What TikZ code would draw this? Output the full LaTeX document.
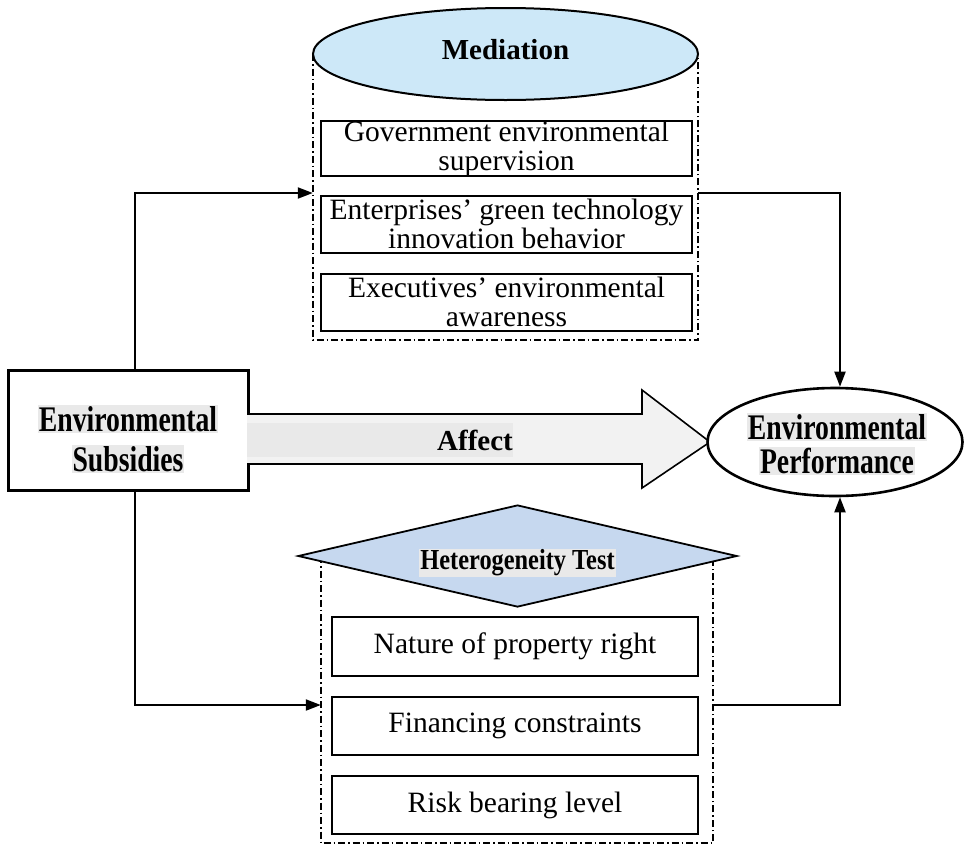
\documentclass[tikz,border=0pt]{standalone}
\usepackage{fontspec}
\setmainfont{Liberation Serif}
\newfontfamily\condA{Liberation Serif}[FakeStretch=0.77]
\newfontfamily\condB{Liberation Serif}[FakeStretch=0.84]
\usetikzlibrary{arrows.meta,shapes.geometric}
\definecolor{hlgray}{HTML}{E9E9E9}
\definecolor{arrgray}{HTML}{F2F2F2}
\definecolor{medblue}{HTML}{CDE8F8}
\definecolor{hetblue}{HTML}{C6D8EF}
\begin{document}
\begin{tikzpicture}[x=1pt,y=-1pt,
  txt/.style={font=\fontsize{29.5}{29}\selectfont},
  mbox/.style={draw,line width=2pt,minimum width=371pt,minimum height=57pt,inner sep=0pt,align=center,txt},
  hbox/.style={draw,line width=2pt,minimum width=366pt,minimum height=58pt,inner sep=0pt,align=center,txt},
  frame/.style={draw=none,minimum width=#1,inner sep=0pt},
  dd/.style={line width=1.6pt,dash pattern=on 7pt off 3pt on 1.5pt off 3pt},
  hl/.style={fill=hlgray,inner sep=1pt},
  bigtxt/.style={hl,font=\fontsize{36}{36}\condA\bfseries},
  arr/.style={line width=2pt,-{Triangle[length=15pt,width=11pt]}}]
\useasboundingbox (0,0) rectangle (965,849);

% frames
\node[frame=385pt,minimum height=286pt] (medfr) at (505.5,197) {};
\node[frame=392pt,minimum height=287pt] (hetfr) at (517,699.5) {};

\node[ellipse,minimum width=385pt,minimum height=92pt,inner sep=0pt] (med) at (505.5,54) {};
\node[diamond,minimum width=439pt,minimum height=102pt,inner sep=0pt] (het) at (517.5,556) {};

\draw[dd] (med.center -| medfr.west) -- (medfr.south west) -- (medfr.south east) -- (medfr.east |- med.center);
\draw[dd] (het.center -| hetfr.west) -- (hetfr.south west) -- (hetfr.south east) -- (hetfr.east |- het.center);

\node[ellipse,draw,line width=2pt,fill=medblue,minimum width=385pt,minimum height=92pt,inner sep=0pt] (med2) at (med.center) {};
\node[font=\fontsize{29}{29}\selectfont\bfseries] (medt) at (505.5,50) {Mediation};

\node[diamond,draw,line width=1.8pt,fill=hetblue,minimum width=439pt,minimum height=102pt,inner sep=0pt] (het2) at (het.center) {};
\node[hl,font=\fontsize{29}{29}\condB\bfseries] (hett) at (517.5,563) {Heterogeneity Test};

% mediation boxes
\node[mbox,minimum height=55pt] (m1) at (506.5,148.5) {Government environmental\\supervision};
\node[mbox] (m2) at (506.5,224) {Enterprises’ green technology\\innovation behavior};
\node[mbox] (m3) at (506.5,302) {Executives’ environmental\\awareness};

% heterogeneity boxes
\node[hbox,minimum height=59pt] (h1) at (515,646.5) {Nature of property right};
\node[hbox] (h2) at (515,726) {Financing constraints};
\node[hbox] (h3) at (515,805) {Risk bearing level};

% Environmental subsidies
\node[draw,line width=3pt,minimum width=240pt,minimum height=120pt,inner sep=0pt] (es) at (128,430) {};
\node[bigtxt] (es1) at (128,419) {Environmental};
\node[bigtxt] (es2) at (128,459) {Subsidies};

% Affect arrow
\path[fill=arrgray] (247,414) -- (642,414) -- (642,390) -- (710,442) -- (642,488) -- (642,464) -- (247,464) -- cycle;
\fill[hlgray] (247,423) rectangle (513,457);
\draw[line width=1.6pt,line join=miter] (247,414) -- (642,414) -- (642,390) -- (710,442) -- (642,488) -- (642,464) -- (247,464);
\node[font=\fontsize{29}{29}\selectfont\bfseries] (aff) at (475,440) {Affect};

% Environmental performance
\node[ellipse,draw,line width=2.6pt,fill=white,minimum width=255pt,minimum height=108pt,inner sep=0pt] (ep) at (835,442) {};
\node[bigtxt] (ep1) at (837,427) {Environmental};
\node[bigtxt] (ep2) at (837,461) {Performance};

% connectors
\coordinate (t1) at (135,193);
\coordinate (t2) at (840,193);
\coordinate (t3) at (135,705);
\coordinate (t4) at (840,705);
\draw[arr] (es.north -| t1) -- (t1) -- (t1 -| medfr.west);
\draw[arr] (t1 -| medfr.east) -- (t2) -- (t2 |- ep.north);
\draw[arr] (es.south -| t3) -- (t3) -- (t3 -| hetfr.west);
\draw[arr] (t3 -| hetfr.east) -- (t4) -- (t4 |- ep.south);
\end{tikzpicture}
\end{document}
